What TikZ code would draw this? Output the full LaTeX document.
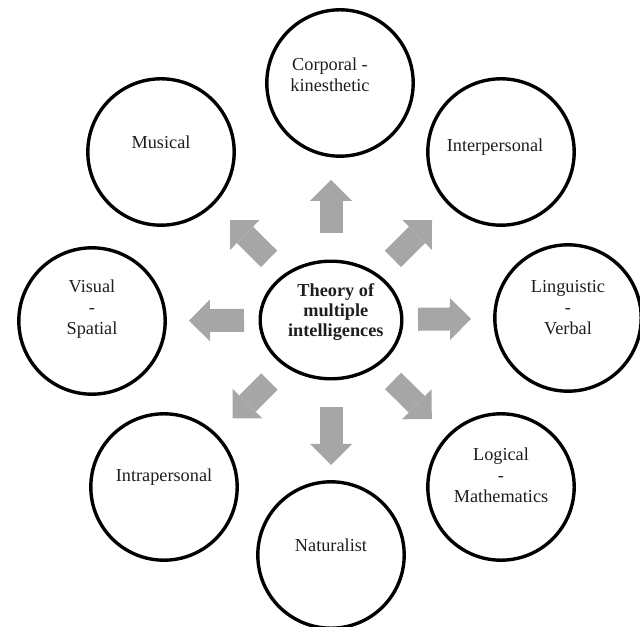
\documentclass[tikz,border=0pt]{standalone}
\usepackage{fontspec}
\setmainfont{Liberation Serif}
\usepackage{xcolor}
\usetikzlibrary{arrows.meta, shapes.geometric, positioning}
\definecolor{arrowgray}{RGB}{166,166,166}
\definecolor{inkgray}{RGB}{30,30,30}
\tikzset{
  idea/.style={circle, draw, line width=2.4pt, minimum size=3.66cm, inner sep=0pt},
  ideatext/.style={align=center, text=inkgray, font=\fontsize{13}{15}\selectfont, yshift=.25cm},
  spoke/.style={draw=arrowgray, line width=.575cm,
    -{Triangle[length=.525cm, width=1.05cm, line width=0pt]},
    shorten <=2.175cm, shorten >=2.425cm}
}

\begin{document}
\begin{tikzpicture}
    \useasboundingbox (0,0) rectangle (16,15.65);
    % centre
    \node [ellipse, draw, line width=2.4pt, minimum width=3.54cm, minimum height=2.94cm,
      label={[align=center, text=inkgray, font=\bfseries\fontsize{13}{14.5}\selectfont, xshift=.12cm, yshift=.2cm]center:Theory of\\multiple\\intelligences}] (theory) at (8.275,7.65) {};
    % intelligences
    \node [idea, label={[ideatext, xshift=-.25cm, yshift=-.05cm]center:Corporal -\\kinesthetic}] (corp) at (8.5,13.575) {};
    \node [idea, label={[ideatext, xshift=-.15cm, yshift=-.12cm]center:Interpersonal}] (inter) at (12.525,11.85) {};
    \node [idea, label={[ideatext]center:Linguistic\\-\\Verbal}] (ling) at (14.2,7.7) {};
    \node [idea, label={[ideatext, yshift=.05cm]center:Logical\\-\\Mathematics}] (logic) at (12.525,3.475) {};
    \node [idea, label={[ideatext]center:Naturalist}] (natur) at (8.275,1.775) {};
    \node [idea, label={[ideatext]center:Intrapersonal}] (intra) at (4.1,3.475) {};
    \node [idea, label={[ideatext, yshift=.05cm]center:Visual\\-\\Spatial}] (visual) at (2.3,7.625) {};
    \node [idea, label={[ideatext]center:Musical}] (music) at (4.025,11.85) {};
    % spokes
    \draw [spoke] (theory.center) -- (theory.center |- corp.center);
    \draw [spoke] (theory.center) -- (inter.center);
    \draw [spoke] (theory.center) -- (ling.center);
    \draw [spoke] (theory.center) -- (logic.center);
    \draw [spoke, shorten >=2.25cm] (theory.center) -- (natur.center);
    \draw [spoke] (theory.center) -- (intra.center);
    \draw [spoke] (theory.center) -- (visual.center);
    \draw [spoke] (theory.center) -- (music.center);
\end{tikzpicture}
\end{document}
